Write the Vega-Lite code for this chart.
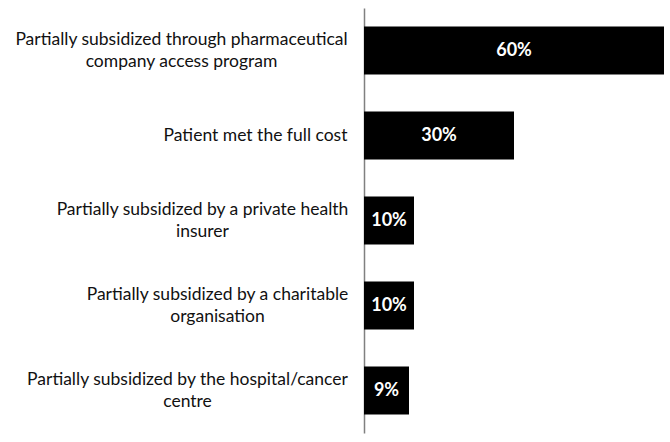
{
  "$schema": "https://vega.github.io/schema/vega-lite/v6.json",
  "width": 300,
  "height": 425,
  "autosize": {"type": "none"},
  "padding": {"left": 364, "top": 8, "right": 6, "bottom": 9},
  "background": "white",
  "config": {"view": {"stroke": null}, "font": "Lato"},
  "data": {
    "values": [
      {"category": "Partially subsidized through pharmaceutical|company access program", "value": 0.60},
      {"category": "Patient met the full cost", "value": 0.30},
      {"category": "Partially subsidized by a private health|insurer", "value": 0.10},
      {"category": "Partially subsidized by a charitable|organisation", "value": 0.10},
      {"category": "Partially subsidized by the hospital/cancer|centre", "value": 0.09}
    ]
  },
  "transform": [{"calculate": "datum.value / 2", "as": "mid"}],
  "encoding": {
    "y": {
      "field": "category",
      "type": "nominal",
      "sort": null,
      "scale": {"paddingInner": 0.435, "paddingOuter": 0.2175},
      "axis": {
        "title": null,
        "ticks": false,
        "domainColor": "#808080",
        "domainWidth": 1.5,
        "labelExpr": "split(datum.label, '|')",
        "labelFont": "Lato",
        "labelFontSize": 17.5,
        "labelColor": "#111111",
        "labelLineHeight": 22,
        "labelLimit": 400,
        "labelAlign": "center",
        "labelOffset": {
          "condition": {"test": "indexof(datum.value, '|') >= 0", "value": -11},
          "value": 0
        },
        "labelPadding": {
          "condition": [
            {"test": "indexof(datum.value, 'pharmaceutical') >= 0", "value": 183},
            {"test": "indexof(datum.value, 'full cost') >= 0", "value": 109},
            {"test": "indexof(datum.value, 'private') >= 0", "value": 162},
            {"test": "indexof(datum.value, 'charitable') >= 0", "value": 147}
          ],
          "value": 177
        }
      }
    }
  },
  "layer": [
    {
      "mark": {"type": "bar", "color": "#000000"},
      "encoding": {
        "x": {
          "field": "value",
          "type": "quantitative",
          "scale": {"domain": [0, 0.6], "nice": false},
          "axis": null
        }
      }
    },
    {
      "mark": {"type": "text", "color": "white", "fontWeight": "bold", "fontSize": 18, "font": "Lato", "align": "center", "baseline": "middle"},
      "encoding": {
        "x": {"field": "mid", "type": "quantitative"},
        "text": {"field": "value", "type": "quantitative", "format": ".0%"}
      }
    }
  ]
}
